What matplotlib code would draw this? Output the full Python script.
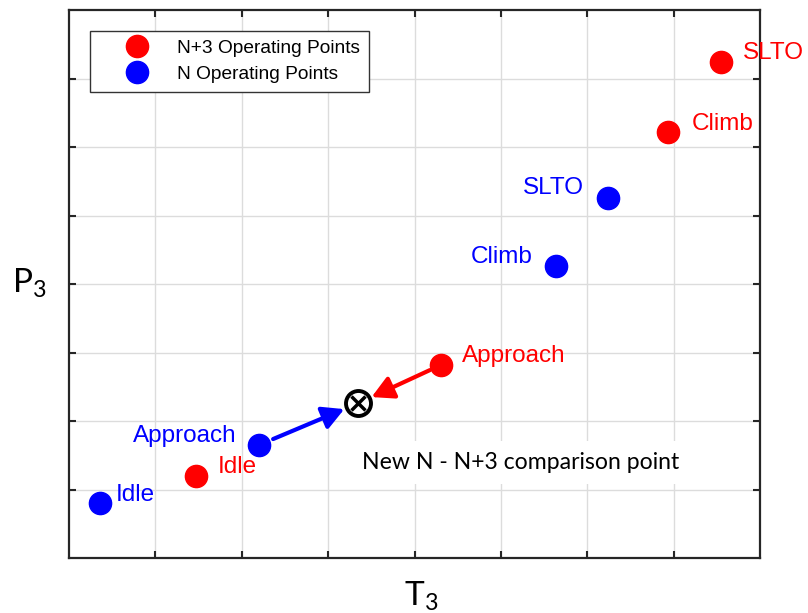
import matplotlib
matplotlib.use('Agg')
import matplotlib.pyplot as plt

# operating points (T3, P3) in arbitrary units
phases = ['Idle', 'Approach', 'Climb', 'SLTO']
n3_t3 = [1.47, 4.31, 6.94, 7.55]
n3_p3 = [1.20, 2.82, 6.22, 7.24]
n_t3 = [0.36, 2.20, 5.64, 6.24]
n_p3 = [0.80, 1.65, 4.26, 5.26]

# new comparison point
cmp_t3 = 3.35
cmp_p3 = 2.26

RED = '#ff0000'
BLUE = '#0000ff'

plt.rcParams['font.family'] = ['Liberation Sans', 'DejaVu Sans']
plt.rcParams['mathtext.fontset'] = 'custom'
plt.rcParams['mathtext.rm'] = 'Lato'


def main():
    fig = plt.figure(figsize=(8.08, 6.13), dpi=100)
    ax = fig.add_axes([69 / 808, 55 / 613, 691 / 808, 548 / 613])

    ax.plot(n3_t3, n3_p3, 'o', color=RED, ms=16, ls='none', label='N+3 Operating Points', zorder=3)
    ax.plot(n_t3, n_p3, 'o', color=BLUE, ms=16, ls='none', label='N Operating Points', zorder=3)

    # point labels: N+3 on the right, N mostly on the left
    n3_offsets = [(22, 9), (21, 9), (23, 8), (22, 9)]
    n_offsets = [(16, 8), (-22, 9), (-24, 9), (-24, 10)]
    n_align = ['left', 'right', 'right', 'right']
    for i, name in enumerate(phases):
        ax.annotate(name, (n3_t3[i], n3_p3[i]), xytext=n3_offsets[i], textcoords='offset pixels',
                    color=RED, fontsize=17.5, ha='left', va='center')
        ax.annotate(name, (n_t3[i], n_p3[i]), xytext=n_offsets[i], textcoords='offset pixels',
                    color=BLUE, fontsize=17.5, ha=n_align[i], va='center')

    # arrows from approach points to the comparison point
    head = '-|>,head_length=0.5,head_width=0.27'
    ax.annotate('', xy=(cmp_t3, cmp_p3), xytext=(n_t3[1], n_p3[1]),
                arrowprops=dict(arrowstyle=head, color=BLUE, lw=3, mutation_scale=26,
                                shrinkA=11, shrinkB=11), zorder=4)
    ax.annotate('', xy=(cmp_t3, cmp_p3), xytext=(n3_t3[1], n3_p3[1]),
                arrowprops=dict(arrowstyle=head, color=RED, lw=3, mutation_scale=26,
                                shrinkA=9, shrinkB=10.5), zorder=4)

    ax.plot(cmp_t3, cmp_p3, 'o', ms=18, mfc='white', mec='black', mew=2.8, zorder=5)
    ax.plot(cmp_t3, cmp_p3, 'x', ms=10, mec='black', mew=2.5, zorder=6)

    ax.text(3.39, 1.30, 'New N - N+3 comparison point', fontsize=16.6, family='Lato',
            ha='left', va='baseline', zorder=4,
            bbox=dict(facecolor='white', edgecolor='none', pad=8))

    ax.set_xlim(0, 8)
    ax.set_ylim(0, 8)
    ax.set_xticks(range(1, 8))
    ax.set_yticks(range(1, 8))
    ax.set_xticklabels([])
    ax.set_yticklabels([])
    ax.grid(True, color='#dcdcdc', lw=1)
    ax.set_axisbelow(True)
    ax.tick_params(direction='in', length=5, width=1.5, color='#262626',
                   top=True, right=True)
    for s in ax.spines.values():
        s.set_linewidth(1.6)
        s.set_color('#262626')

    leg = ax.legend(loc='upper left', bbox_to_anchor=(0.03, 0.962), borderaxespad=0,
                    fontsize=13.8, handlelength=4.0, handletextpad=0.1, fancybox=False,
                    framealpha=1, edgecolor='#333333', borderpad=0.45, labelspacing=0.45,
                    numpoints=1)
    leg.get_frame().set_linewidth(1.0)

    fig.text(12 / 808, (613 - 292) / 613, r'P$_\mathregular{3}$', fontsize=24, family='Lato',
             ha='left', va='baseline')
    fig.text(404 / 808, (613 - 605) / 613, r'T$_\mathregular{3}$', fontsize=24, family='Lato',
             ha='left', va='baseline')

    fig.savefig('out.png', dpi=100)


if __name__ == "__main__":
    main()
